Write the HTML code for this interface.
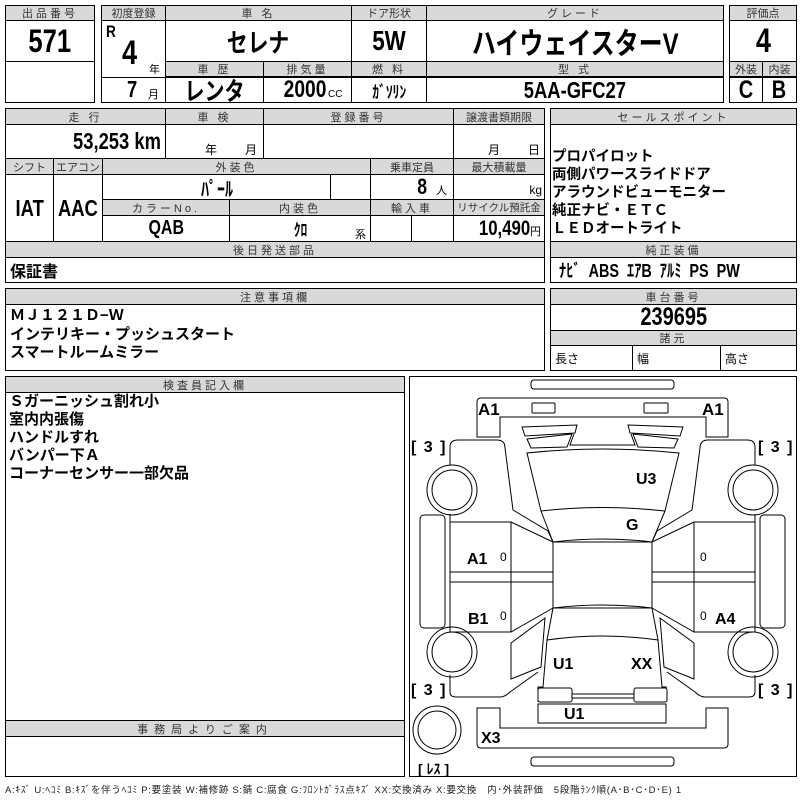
<!DOCTYPE html>
<html><head><meta charset="utf-8"><style>
*{box-sizing:border-box;margin:0;padding:0}
body{width:800px;height:800px;background:#fff;position:relative;overflow:hidden;font-family:"Liberation Sans","Noto Sans CJK JP",sans-serif;color:#000}
.c{position:absolute;border:1px solid #000;display:flex;align-items:center;justify-content:center;white-space:nowrap}
.h{background:#d9d9d9;font-size:11px;color:#333;letter-spacing:3px}
.t{position:absolute;white-space:nowrap}
.b{font-weight:bold}
.l{justify-content:flex-start;padding-left:4px}
.n{display:inline-block;transform:scaleX(.8)}
.nr{display:inline-block;transform:scaleX(.8);transform-origin:right center}
.nl{display:inline-block;transform:scaleX(.8);transform-origin:left center}
</style></head><body>
<!-- box1 -->
<div class="c h" style="left:5px;top:5px;width:90px;height:16px">出品番号</div>
<div class="c b" style="left:5px;top:20px;width:90px;height:42px;font-size:32px"><span class="n">571</span></div>
<div class="c" style="left:5px;top:61px;width:90px;height:42px"></div>
<!-- box2 -->
<div class="c h" style="left:101px;top:5px;width:65px;height:16px;letter-spacing:0">初度登録</div>
<div class="c h" style="left:165px;top:5px;width:187px;height:16px">車 名</div>
<div class="c h" style="left:351px;top:5px;width:76px;height:16px;letter-spacing:0">ドア形状</div>
<div class="c h" style="left:426px;top:5px;width:298px;height:16px">グレード</div>
<div class="c" style="left:101px;top:20px;width:65px;height:58px"></div>
<div class="t b" style="left:106px;top:22px;font-size:17px"><span class="nl">R</span></div>
<div class="t b" style="left:122px;top:34px;font-size:34px"><span class="nl">4</span></div>
<div class="t" style="left:149px;top:61px;font-size:11px">年</div>
<div class="c b" style="left:165px;top:20px;width:187px;height:42px;font-size:26px"><span class="n">セレナ</span></div>
<div class="c b" style="left:351px;top:20px;width:76px;height:42px;font-size:28px"><span class="n">5W</span></div>
<div class="c b" style="left:426px;top:20px;width:298px;height:42px;font-size:30px"><span class="n">ハイウェイスターV</span></div>
<div class="c h" style="left:165px;top:61px;width:99px;height:16px">車 歴</div>
<div class="c h" style="left:263px;top:61px;width:89px;height:16px">排気量</div>
<div class="c h" style="left:351px;top:61px;width:76px;height:16px">燃 料</div>
<div class="c h" style="left:426px;top:61px;width:298px;height:16px">型 式</div>
<div class="c" style="left:101px;top:77px;width:65px;height:26px"></div>
<div class="t b" style="left:127px;top:76px;font-size:23px"><span class="nl">7</span></div>
<div class="t" style="left:148px;top:86px;font-size:11px">月</div>
<div class="c b" style="left:165px;top:77px;width:99px;height:26px;font-size:25px"><span class="n">レンタ</span></div>
<div class="c" style="left:263px;top:77px;width:89px;height:26px"><span class="b nr" style="font-size:24px">2000</span><span style="font-size:10px;margin:8px 0 0 2px">CC</span></div>
<div class="c b" style="left:351px;top:77px;width:76px;height:26px;font-size:17px"><span class="n">ｶﾞｿﾘﾝ</span></div>
<div class="c b" style="left:426px;top:77px;width:298px;height:26px;font-size:23px"><span class="n">5AA-GFC27</span></div>
<!-- box3 -->
<div class="c h" style="left:729px;top:5px;width:68px;height:16px;letter-spacing:0">評価点</div>
<div class="c b" style="left:729px;top:20px;width:68px;height:42px;font-size:34px"><span class="n">4</span></div>
<div class="c h" style="left:729px;top:61px;width:34px;height:16px;letter-spacing:0">外装</div>
<div class="c h" style="left:762px;top:61px;width:35px;height:16px;letter-spacing:0">内装</div>
<div class="c b" style="left:729px;top:77px;width:34px;height:26px;font-size:25px"><span class="n">C</span></div>
<div class="c b" style="left:762px;top:77px;width:35px;height:26px;font-size:25px"><span class="n">B</span></div>
<!-- section2 -->
<div class="c h" style="left:5px;top:108px;width:161px;height:17px">走 行</div>
<div class="c h" style="left:165px;top:108px;width:99px;height:17px">車 検</div>
<div class="c h" style="left:263px;top:108px;width:191px;height:17px">登録番号</div>
<div class="c h" style="left:453px;top:108px;width:92px;height:17px;letter-spacing:0">譲渡書類期限</div>
<div class="c b" style="left:5px;top:124px;width:161px;height:35px;font-size:23px;justify-content:flex-end;padding-right:4px"><span class="nr">53,253 km</span></div>
<div class="c" style="left:165px;top:124px;width:99px;height:35px"></div>
<div class="t" style="left:205px;top:141px;font-size:12px">年</div><div class="t" style="left:245px;top:141px;font-size:12px">月</div>
<div class="c" style="left:263px;top:124px;width:191px;height:35px"></div>
<div class="c" style="left:453px;top:124px;width:92px;height:35px"></div>
<div class="t" style="left:488px;top:141px;font-size:12px">月</div><div class="t" style="left:528px;top:141px;font-size:12px">日</div>
<div class="c h" style="left:5px;top:158px;width:49px;height:17px;letter-spacing:0">シフト</div>
<div class="c h" style="left:53px;top:158px;width:50px;height:17px;letter-spacing:0">エアコン</div>
<div class="c h" style="left:102px;top:158px;width:269px;height:17px">外装色</div>
<div class="c h" style="left:370px;top:158px;width:84px;height:17px;letter-spacing:0">乗車定員</div>
<div class="c h" style="left:453px;top:158px;width:92px;height:17px;letter-spacing:0">最大積載量</div>
<div class="c b" style="left:5px;top:174px;width:49px;height:68px;font-size:23px"><span class="n">IAT</span></div>
<div class="c b" style="left:53px;top:174px;width:50px;height:68px;font-size:23px"><span class="n">AAC</span></div>
<div class="c b" style="left:102px;top:174px;width:229px;height:26px;font-size:20px"><span class="n">ﾊﾟｰﾙ</span></div>
<div class="c" style="left:330px;top:174px;width:41px;height:26px"></div>
<div class="c" style="left:370px;top:174px;width:84px;height:26px;justify-content:flex-end;padding-right:6px"><span class="b n" style="font-size:22px">8</span><span style="font-size:11px;margin:6px 0 0 8px">人</span></div>
<div class="c" style="left:453px;top:174px;width:92px;height:26px;justify-content:flex-end;align-items:flex-end;padding:0 2px 2px 0;font-size:12px">kg</div>
<div class="c h" style="left:102px;top:199px;width:128px;height:17px">カラーNo.</div>
<div class="c h" style="left:229px;top:199px;width:142px;height:17px">内装色</div>
<div class="c h" style="left:370px;top:199px;width:84px;height:17px">輸入車</div>
<div class="c h" style="left:453px;top:199px;width:92px;height:17px;letter-spacing:0;font-size:10.5px">リサイクル預託金</div>
<div class="c b" style="left:102px;top:215px;width:128px;height:27px;font-size:20px"><span class="n">QAB</span></div>
<div class="c b" style="left:229px;top:215px;width:142px;height:27px;font-size:17px"><span class="n">ｸﾛ</span></div>
<div class="t" style="left:355px;top:226px;font-size:11px">系</div>
<div class="c" style="left:370px;top:215px;width:42px;height:27px"></div>
<div class="c" style="left:411px;top:215px;width:43px;height:27px"></div>
<div class="c" style="left:453px;top:215px;width:92px;height:27px;justify-content:flex-end;padding-right:3px"><span class="b nr" style="font-size:21px">10,490</span><span style="font-size:11px;margin-top:4px">円</span></div>
<div class="c h" style="left:5px;top:241px;width:540px;height:17px">後日発送部品</div>
<div class="c l b" style="left:5px;top:257px;width:540px;height:26px;font-size:16px">保証書</div>
<!-- sales -->
<div class="c h" style="left:550px;top:108px;width:247px;height:17px">セールスポイント</div>
<div class="c" style="left:550px;top:124px;width:247px;height:118px"></div>
<div class="t b" style="left:552px;top:148px;font-size:14.5px;line-height:18px">プロパイロット<br>両側パワースライドドア<br>アラウンドビューモニター<br>純正ナビ・ＥＴＣ<br>ＬＥＤオートライト</div>
<div class="c h" style="left:550px;top:241px;width:247px;height:17px">純正装備</div>
<div class="c l b" style="left:550px;top:257px;width:247px;height:26px;font-size:18px;padding-left:8px"><span class="nl" style="word-spacing:5px">ﾅﾋﾞ ABS ｴｱB ｱﾙﾐ PS PW</span></div>
<!-- section3 -->
<div class="c h" style="left:5px;top:288px;width:540px;height:17px">注意事項欄</div>
<div class="c" style="left:5px;top:304px;width:540px;height:67px"></div>
<div class="t b" style="left:10px;top:307px;font-size:15px;line-height:18.5px">ＭＪ１２１Ｄ−Ｗ<br>インテリキー・プッシュスタート<br>スマートルームミラー</div>
<div class="c h" style="left:550px;top:288px;width:247px;height:17px">車台番号</div>
<div class="c b" style="left:550px;top:304px;width:247px;height:27px;font-size:25px"><span class="n">239695</span></div>
<div class="c h" style="left:550px;top:330px;width:247px;height:16px">諸元</div>
<div class="c l" style="left:550px;top:345px;width:83px;height:26px;font-size:12px">長さ</div>
<div class="c l" style="left:632px;top:345px;width:89px;height:26px;font-size:12px">幅</div>
<div class="c l" style="left:720px;top:345px;width:77px;height:26px;font-size:12px">高さ</div>
<!-- section4 -->
<div class="c h" style="left:5px;top:376px;width:400px;height:17px">検査員記入欄</div>
<div class="c" style="left:5px;top:392px;width:400px;height:329px"></div>
<div class="t b" style="left:9px;top:393px;font-size:15px;line-height:18px">Ｓガーニッシュ割れ小<br>室内内張傷<br>ハンドルすれ<br>バンパー下Ａ<br>コーナーセンサー一部欠品</div>
<div class="c h" style="left:5px;top:720px;width:400px;height:17px;letter-spacing:6px">事務局よりご案内</div>
<div class="c" style="left:5px;top:736px;width:400px;height:41px"></div>
<div class="c" style="left:409px;top:376px;width:388px;height:401px"></div>
<svg style="position:absolute;left:0;top:0" width="800" height="800" fill="none" stroke="#000" stroke-width="1">
<rect x="531" y="380" width="143" height="9" rx="3"/>
<rect x="531" y="757" width="143" height="9" rx="3"/>
<path d="M477,437 L477,402 Q477,398 481,398 L724,398 Q728,398 728,402 L728,437 L706,437 L706,417 L500,417 L500,437 Z"/>
<path d="M477,708 L477,744 Q477,748 481,748 L724,748 Q728,748 728,744 L728,708 L706,708 L706,728 L500,728 L500,708 Z"/>
<rect x="532" y="403" width="23" height="10" rx="1"/><rect x="644" y="403" width="24" height="10" rx="1"/>
<path d="M522,427 L577,425 L575,433 L525,436 Z M527,439 L572,434 L567,447 L531,448 Z"/>
<path d="M683,427 L628,425 L630,433 L680,436 Z M678,439 L633,434 L638,447 L674,448 Z"/>
<path d="M574,434 L570,445 L635,445 L631,434"/>
<path d="M527,453 Q602,445 679,453 L665,511 Q602,504 541,511 Z"/>
<path d="M541,511 L553,542 Q602,536 652,542 L665,511"/>
<rect x="553" y="542" width="99" height="66"/>
<path d="M553,608 Q602,602 652,608 L658,640 Q602,632 547,640 Z"/>
<path d="M547,640 L543,687 L538,687 L538,702 M658,640 L662,687 L667,687"/>
<rect x="538" y="688" width="34" height="14" rx="2"/><rect x="634" y="688" width="33" height="14" rx="2"/>
<path d="M572,694 L634,694 M572,698 L634,698"/>
<rect x="538" y="704" width="128" height="19"/>
<g id="side">
<path d="M450,465 L450,447 Q450,440 458,440 L497,440 Q505,440 505,448 L513,510 L548,531 L553,542"/>
<path d="M450,514 L450,522 L511,522 L553,542 M450,632 L511,632 L553,608"/>
<rect x="450" y="522" width="61" height="110"/>
<rect x="450" y="572" width="103" height="10"/>
<path d="M511,522 L511,632"/>
<path d="M511,643 L545,618 L541,667 L511,679 Z"/>
<path d="M450,675 L450,692 Q450,697 456,697 L500,697 Q505,697 510,692 L538,672"/>
<rect x="420" y="515" width="25" height="113" rx="4"/>
<circle cx="452" cy="490" r="25"/><circle cx="452" cy="490" r="20"/>
<circle cx="452" cy="652" r="25"/><circle cx="452" cy="652" r="20"/>
</g>
<use href="#side" transform="translate(1205,0) scale(-1,1)"/>
<circle cx="437" cy="730" r="24"/><circle cx="437" cy="730" r="19"/>
</svg>
<div class="t b" style="font-size:17px;left:478px;top:400px">A1</div>
<div class="t b" style="font-size:17px;left:702px;top:400px">A1</div>
<div class="t b" style="font-size:16px;left:411px;top:439px;word-spacing:3px">[ 3 ]</div>
<div class="t b" style="font-size:16px;left:758px;top:439px;word-spacing:3px">[ 3 ]</div>
<div class="t b" style="font-size:16px;left:411px;top:682px;word-spacing:3px">[ 3 ]</div>
<div class="t b" style="font-size:16px;left:758px;top:682px;word-spacing:3px">[ 3 ]</div>
<div class="t b" style="font-size:16px;left:636px;top:471px">U3</div>
<div class="t b" style="font-size:16px;left:626px;top:517px">G</div>
<div class="t b" style="font-size:16px;left:467px;top:551px">A1</div>
<div class="t b" style="font-size:16px;left:468px;top:611px">B1</div>
<div class="t b" style="font-size:16px;left:715px;top:611px">A4</div>
<div class="t" style="font-size:12px;left:500px;top:550px">0</div>
<div class="t" style="font-size:12px;left:500px;top:609px">0</div>
<div class="t" style="font-size:12px;left:700px;top:550px">0</div>
<div class="t" style="font-size:12px;left:700px;top:609px">0</div>
<div class="t b" style="font-size:16px;left:553px;top:656px">U1</div>
<div class="t b" style="font-size:16px;left:631px;top:656px">XX</div>
<div class="t b" style="font-size:16px;left:564px;top:706px">U1</div>
<div class="t b" style="font-size:16px;left:481px;top:730px">X3</div>
<div class="t b" style="font-size:14px;left:418px;top:759px">[ ﾚｽ ]</div>
<div class="t" style="left:5px;top:782px;font-size:9.5px;letter-spacing:0.7px;color:#222">A:ｷｽﾞ U:ﾍｺﾐ B:ｷｽﾞを伴うﾍｺﾐ P:要塗装 W:補修跡 S:錆 C:腐食 G:ﾌﾛﾝﾄｶﾞﾗｽ点ｷｽﾞ XX:交換済み X:要交換　内･外装評価　5段階ﾗﾝｸ順(A･B･C･D･E) 1</div>
</body></html>
